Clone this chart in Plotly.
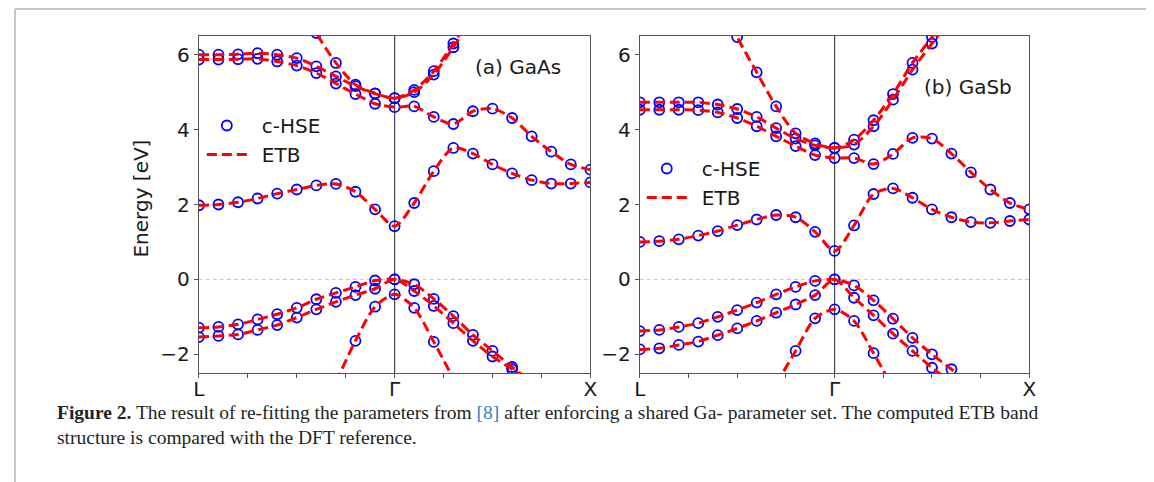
import plotly.graph_objects as go

# ---------------- data ----------------
N = None
k_index = list(range(21))                      # L (0) -> Gamma (10) -> X (20)
k_tick_vals = [0, 2.5, 5, 7.5, 10, 12.5, 15, 17.5, 20]
k_tick_text = ["L", "", "", "", "Γ", "", "", "", "X"]
e_tick_vals = [-2, 0, 2, 4, 6]

# GaAs bands (eV)
gaas_vb_so = [N, N, N, N, N, N, N, -2.75, -1.64, -0.73, -0.40, -0.76, -1.67, -2.65, N, N, N, N, N, N, N]
gaas_vb_lh = [-1.54, -1.51, -1.47, -1.35, -1.22, -1.02, -0.80, -0.60, -0.42, -0.25, 0.00,
              -0.31, -0.71, -1.17, -1.64, -2.06, -2.40, -2.80, N, N, N]
gaas_vb_hh = [-1.29, -1.27, -1.20, -1.07, -0.93, -0.76, -0.53, -0.36, -0.20, -0.03, 0.00,
              -0.13, -0.52, -0.98, -1.48, -1.91, -2.34, -2.75, N, N, N]
gaas_cb1 = [1.98, 2.00, 2.06, 2.16, 2.29, 2.40, 2.51, 2.55, 2.34, 1.87, 1.42,
            2.04, 2.89, 3.51, 3.36, 3.07, 2.83, 2.65, 2.56, 2.56, 2.59]
gaas_cb2 = [5.87, 5.87, 5.88, 5.89, 5.82, 5.71, 5.51, 5.23, 4.95, 4.69, 4.60,
            4.62, 4.34, 4.15, 4.49, 4.56, 4.31, 3.82, 3.41, 3.07, 2.93]
gaas_cb3 = [6.00, 6.00, 6.01, 6.04, 6.00, 5.91, 5.69, 5.42, 5.16, 4.96, 4.84,
            5.00, 5.47, 6.20, 7.00, N, N, N, N, N, N]
gaas_cb4 = [N, N, N, N, N, 7.60, 6.58, 5.78, 5.20, 4.97, 4.84,
            5.06, 5.56, 6.30, 7.10, N, N, N, N, N, N]

# GaSb bands (eV)
gasb_vb_so = [N, N, N, N, N, N, N, -2.80, -1.91, -1.04, -0.80, -1.11, -1.97, -2.90, N, N, N, N, N, N, N]
gasb_vb_lh = [-1.87, -1.84, -1.75, -1.66, -1.49, -1.31, -1.11, -0.89, -0.67, -0.42, 0.00,
              -0.49, -0.96, -1.45, -1.91, -2.36, -2.75, N, N, N, N]
gasb_vb_hh = [-1.38, -1.35, -1.27, -1.17, -1.00, -0.82, -0.62, -0.40, -0.20, -0.04, 0.00,
              -0.16, -0.56, -1.05, -1.56, -2.00, -2.40, -2.80, N, N, N]
gasb_cb1 = [1.00, 1.02, 1.07, 1.17, 1.29, 1.45, 1.60, 1.72, 1.66, 1.27, 0.76,
            1.44, 2.28, 2.43, 2.18, 1.87, 1.66, 1.53, 1.51, 1.56, 1.60]
gasb_cb2 = [4.53, 4.53, 4.53, 4.52, 4.46, 4.31, 4.09, 3.82, 3.56, 3.32, 3.24,
            3.24, 3.08, 3.35, 3.78, 3.76, 3.36, 2.86, 2.40, 2.04, 1.87]
gasb_cb3 = [4.73, 4.73, 4.73, 4.73, 4.67, 4.55, 4.34, 4.04, 3.76, 3.58, 3.51,
            3.60, 4.09, 4.80, 5.60, 6.30, 7.00, N, N, N, N]
gasb_cb4 = [N, N, N, N, 7.50, 6.47, 5.53, 4.62, 3.90, 3.63, 3.51,
            3.73, 4.25, 4.95, 5.78, 6.47, 7.20, N, N, N, N]

gaas_bands = [gaas_vb_so, gaas_vb_lh, gaas_vb_hh, gaas_cb1, gaas_cb2, gaas_cb3, gaas_cb4]
gasb_bands = [gasb_vb_so, gasb_vb_lh, gasb_vb_hh, gasb_cb1, gasb_cb2, gasb_cb3, gasb_cb4]

panel_labels = ["(a) GaAs", "(b) GaSb"]
series_names = ["c-HSE", "ETB"]
caption_line1 = ("<b>Figure 2.</b> The result of re-fitting the parameters from "
                 "<span style='color:#2e86c1'>[8]</span> after enforcing a shared Ga- parameter set. "
                 "The computed ETB band")
caption_line2 = "structure is compared with the DFT reference."

# ---------------- layout helpers ----------------
# the page body adds an 8 px margin, so the figure is drawn 8 px smaller and
# all reference pixel positions are shifted by that margin
OFF = 8
W, H = 1154 - OFF, 482 - OFF
def px(x):
    return (x - OFF) / W
def py(y):
    return 1 - (y - OFF) / H

FONT = "DejaVu Sans"
RED = "#ff0000"
BLUE = "#0000ff"
AXC = "#555555"

fig = go.Figure()

panels = [("x", "y", "legend", gaas_bands), ("x2", "y2", "legend2", gasb_bands)]
for xa, ya, lg, bands in panels:
    for i, band in enumerate(bands):
        fig.add_trace(go.Scatter(
            x=k_index, y=band, xaxis=xa, yaxis=ya, mode="markers",
            marker=dict(symbol="circle-open", size=10, color=BLUE, line=dict(width=1.8, color=BLUE)),
            name="\u2002" + series_names[0], legend=lg, showlegend=(i == 0),
            hoverinfo="skip"))
    for i, band in enumerate(bands):
        fig.add_trace(go.Scatter(
            x=k_index, y=band, xaxis=xa, yaxis=ya, mode="lines",
            line=dict(color=RED, width=3, dash="10px,5px", shape="spline", smoothing=0.8),
            name="\u2002" + series_names[1], legend=lg, showlegend=(i == 0),
            hoverinfo="skip"))

axis_common = dict(
    showgrid=False, zeroline=False, showline=True, mirror=True,
    linecolor=AXC, linewidth=1.3, ticks="outside", ticklen=4, tickwidth=1.2,
    tickcolor=AXC, tickfont=dict(family=FONT, size=20, color="#1a1a1a"),
)
ydom = [py(373), py(36)]
fig.update_layout(
    width=W, height=H, margin=dict(l=0, r=0, t=0, b=0),
    paper_bgcolor="white", plot_bgcolor="white",
    xaxis=dict(domain=[px(195), px(591)], range=[0, 20], tickvals=k_tick_vals,
               ticktext=k_tick_text, anchor="y", ticklabelstandoff=-6, **axis_common),
    yaxis=dict(domain=ydom, range=[-2.5, 6.5], tickvals=e_tick_vals, anchor="x", **axis_common),
    xaxis2=dict(domain=[px(641), px(1035)], range=[0, 20], tickvals=k_tick_vals,
                ticktext=k_tick_text, anchor="y2", ticklabelstandoff=-6, **axis_common),
    yaxis2=dict(domain=ydom, range=[-2.5, 6.5], tickvals=e_tick_vals, anchor="x2", **axis_common),
    legend=dict(x=px(198), y=py(106), xanchor="left", yanchor="top", bgcolor="rgba(0,0,0,0)",
                itemwidth=40, font=dict(family=FONT, size=20, color="#1a1a1a")),
    legend2=dict(x=px(643), y=py(149), xanchor="left", yanchor="top", bgcolor="rgba(0,0,0,0)",
                 itemwidth=40, font=dict(family=FONT, size=20, color="#1a1a1a")),
    showlegend=True,
)

shapes = []
for xa, ya in [("x", "y"), ("x2", "y2")]:
    # Gamma vertical line
    shapes.append(dict(type="line", xref=xa, yref=ya + " domain", x0=10, x1=10, y0=0, y1=1,
                       line=dict(color="#444444", width=1.2), layer="below"))
    # zero energy reference
    shapes.append(dict(type="line", xref=xa + " domain", yref=ya, x0=0, x1=1, y0=0, y1=0,
                       line=dict(color="#c4c4c4", width=1, dash="4px,3px"), layer="below"))
# page frame lines
shapes.append(dict(type="line", xref="paper", yref="paper", x0=px(9), x1=px(9), y0=0, y1=py(9),
                   line=dict(color="#c8c8c8", width=2)))
shapes.append(dict(type="line", xref="paper", yref="paper", x0=px(9), x1=1, y0=py(9), y1=py(9),
                   line=dict(color="#c8c8c8", width=2)))
fig.update_layout(shapes=shapes)

annotations = [
    dict(text=panel_labels[0], x=px(472), y=py(67), xref="paper", yref="paper",
         xanchor="left", yanchor="middle", showarrow=False,
         font=dict(family=FONT, size=20, color="#1a1a1a")),
    dict(text=panel_labels[1], x=px(926), y=py(87), xref="paper", yref="paper",
         xanchor="left", yanchor="middle", showarrow=False,
         font=dict(family=FONT, size=20, color="#1a1a1a")),
    dict(text="Energy [eV]", x=px(136), y=py(199), xref="paper", yref="paper",
         xanchor="center", yanchor="middle", textangle=-90, showarrow=False,
         font=dict(family=FONT, size=20, color="#1a1a1a")),
    dict(text=caption_line1, x=px(49), y=py(412), xref="paper", yref="paper",
         xanchor="left", yanchor="middle", showarrow=False,
         font=dict(family="Liberation Serif", size=19.5, color="#231f20")),
    dict(text=caption_line2, x=px(49), y=py(437), xref="paper", yref="paper",
         xanchor="left", yanchor="middle", showarrow=False,
         font=dict(family="Liberation Serif", size=19.5, color="#231f20")),
]
fig.update_layout(annotations=annotations)

fig.write_html("out.html")
